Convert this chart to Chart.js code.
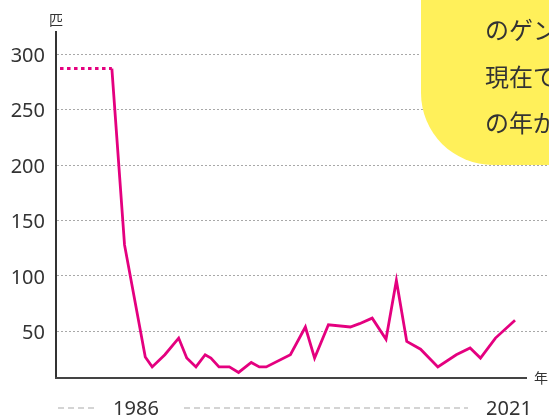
<!DOCTYPE html>
<html>
<head>
<meta charset="utf-8">
<script src="https://cdn.jsdelivr.net/npm/chart.js@4/dist/chart.umd.min.js"></script>
<style>
  html, body { margin: 0; padding: 0; background: #fff; }
  #wrap { width: 549px; height: 415px; position: relative; }
</style>
</head>
<body>
<div id="wrap"><canvas id="fireflyChart"></canvas></div>
<script>
// survey years and counts
const years = [1981.5, 1986.0, 1987.1, 1988.9, 1989.5, 1990.6, 1991.8, 1992.5, 1993.3, 1994.1,
    1994.6, 1995.3, 1996.2, 1997.0, 1998.1, 1998.8, 1999.4, 2001.5, 2002.8, 2003.6,
    2004.8, 2006.7, 2007.5, 2008.6, 2009.8, 2010.7, 2011.6, 2012.8, 2014.3, 2015.9,
    2017.1, 2018.0, 2019.3, 2021.0];
const counts = [287, 287, 128, 27, 18, 29, 44, 26, 18, 29,
    26, 18, 18, 13, 22, 18, 18, 29, 54, 26,
    56, 54, 57, 62, 43, 96, 41, 34, 18, 29,
    35, 26, 44, 60];
const yTicks = [50, 100, 150, 200, 250, 300];
const xLabels = ['1986', '2021'];
const yUnit = '匹';
const xUnit = '年';
const noteLines = ['のゲンジボタル', '現在では', 'の年が'];

const pink = '#e4007f';
const ink = '#333333';

// axis line, units, yellow note, bottom labels
const decor = {
    id: 'decor',
    afterDraw(chart) {
        const ctx = chart.ctx;
        const area = chart.chartArea;
        ctx.save();

        // x axis line
        ctx.strokeStyle = '#444';
        ctx.lineWidth = 2;
        ctx.beginPath();
        ctx.moveTo(area.left - 1, area.bottom);
        ctx.lineTo(527, area.bottom);
        ctx.stroke();

        ctx.fillStyle = ink;
        ctx.font = '14px "Noto Sans CJK JP"';
        ctx.textBaseline = 'middle';
        ctx.textAlign = 'left';
        ctx.fillText(xUnit, 534, area.bottom);
        ctx.textAlign = 'center';
        ctx.fillText(yUnit, 56, 20);

        // bottom dashes + year labels
        ctx.strokeStyle = '#aaa';
        ctx.lineWidth = 1.2;
        ctx.setLineDash([6, 4]);
        ctx.beginPath();
        ctx.moveTo(58, 408); ctx.lineTo(98, 408);
        ctx.moveTo(184, 408); ctx.lineTo(468, 408);
        ctx.stroke();
        ctx.setLineDash([]);
        ctx.fillStyle = ink;
        ctx.font = '20px "Noto Sans"';
        ctx.textBaseline = 'alphabetic';
        ctx.textAlign = 'center';
        ctx.fillText(xLabels[0], 136, 415);
        ctx.fillText(xLabels[1], 509, 415);

        // yellow note box
        const bx = 421, by = -80, bw = 200, bh = 245, r = 72;
        ctx.fillStyle = '#fff05a';
        ctx.beginPath();
        ctx.roundRect(bx, by, bw, bh, r);
        ctx.fill();
        ctx.fillStyle = ink;
        ctx.font = '24px "Noto Sans CJK JP"';
        ctx.textAlign = 'left';
        ctx.textBaseline = 'middle';
        [30, 77, 123].forEach((y, i) => ctx.fillText(noteLines[i], 485, y));

        ctx.restore();
    }
};

const ctx = document.getElementById('fireflyChart').getContext('2d');
const fireflyChart = new Chart(ctx, {
    type: 'line',
    data: {
        datasets: [{
            data: years.map((y, i) => ({ x: y, y: counts[i] })),
            borderColor: pink,
            borderWidth: 2.8,
            pointRadius: 0,
            tension: 0,
            segment: {
                borderDash: c => c.p0DataIndex === 0 ? [3.5, 3.5] : undefined,
                borderWidth: c => c.p0DataIndex === 0 ? 3 : undefined
            }
        }]
    },
    options: {
        responsive: true,
        maintainAspectRatio: false,
        devicePixelRatio: 1,
        animation: false,
        layout: { padding: { top: 32, bottom: 37, left: 0, right: 0 } },
        plugins: { legend: { display: false }, tooltip: { enabled: false } },
        scales: {
            x: {
                type: 'linear',
                min: 1981.15,
                max: 2023.95,
                display: false
            },
            y: {
                min: 8,
                max: 320,
                afterBuildTicks: s => { s.ticks = yTicks.map(v => ({ value: v })); },
                afterFit: s => { s.width = 56; },
                ticks: {
                    padding: 11,
                    labelOffset: 2,
                    color: ink,
                    font: { family: 'Noto Sans', size: 20 }
                },
                grid: { color: '#a8a8a8', lineWidth: 1, drawTicks: false },
                border: { display: true, color: '#333', width: 2, dash: [2, 2] }
            }
        }
    },
    plugins: [decor]
});
</script>
</body>
</html>
